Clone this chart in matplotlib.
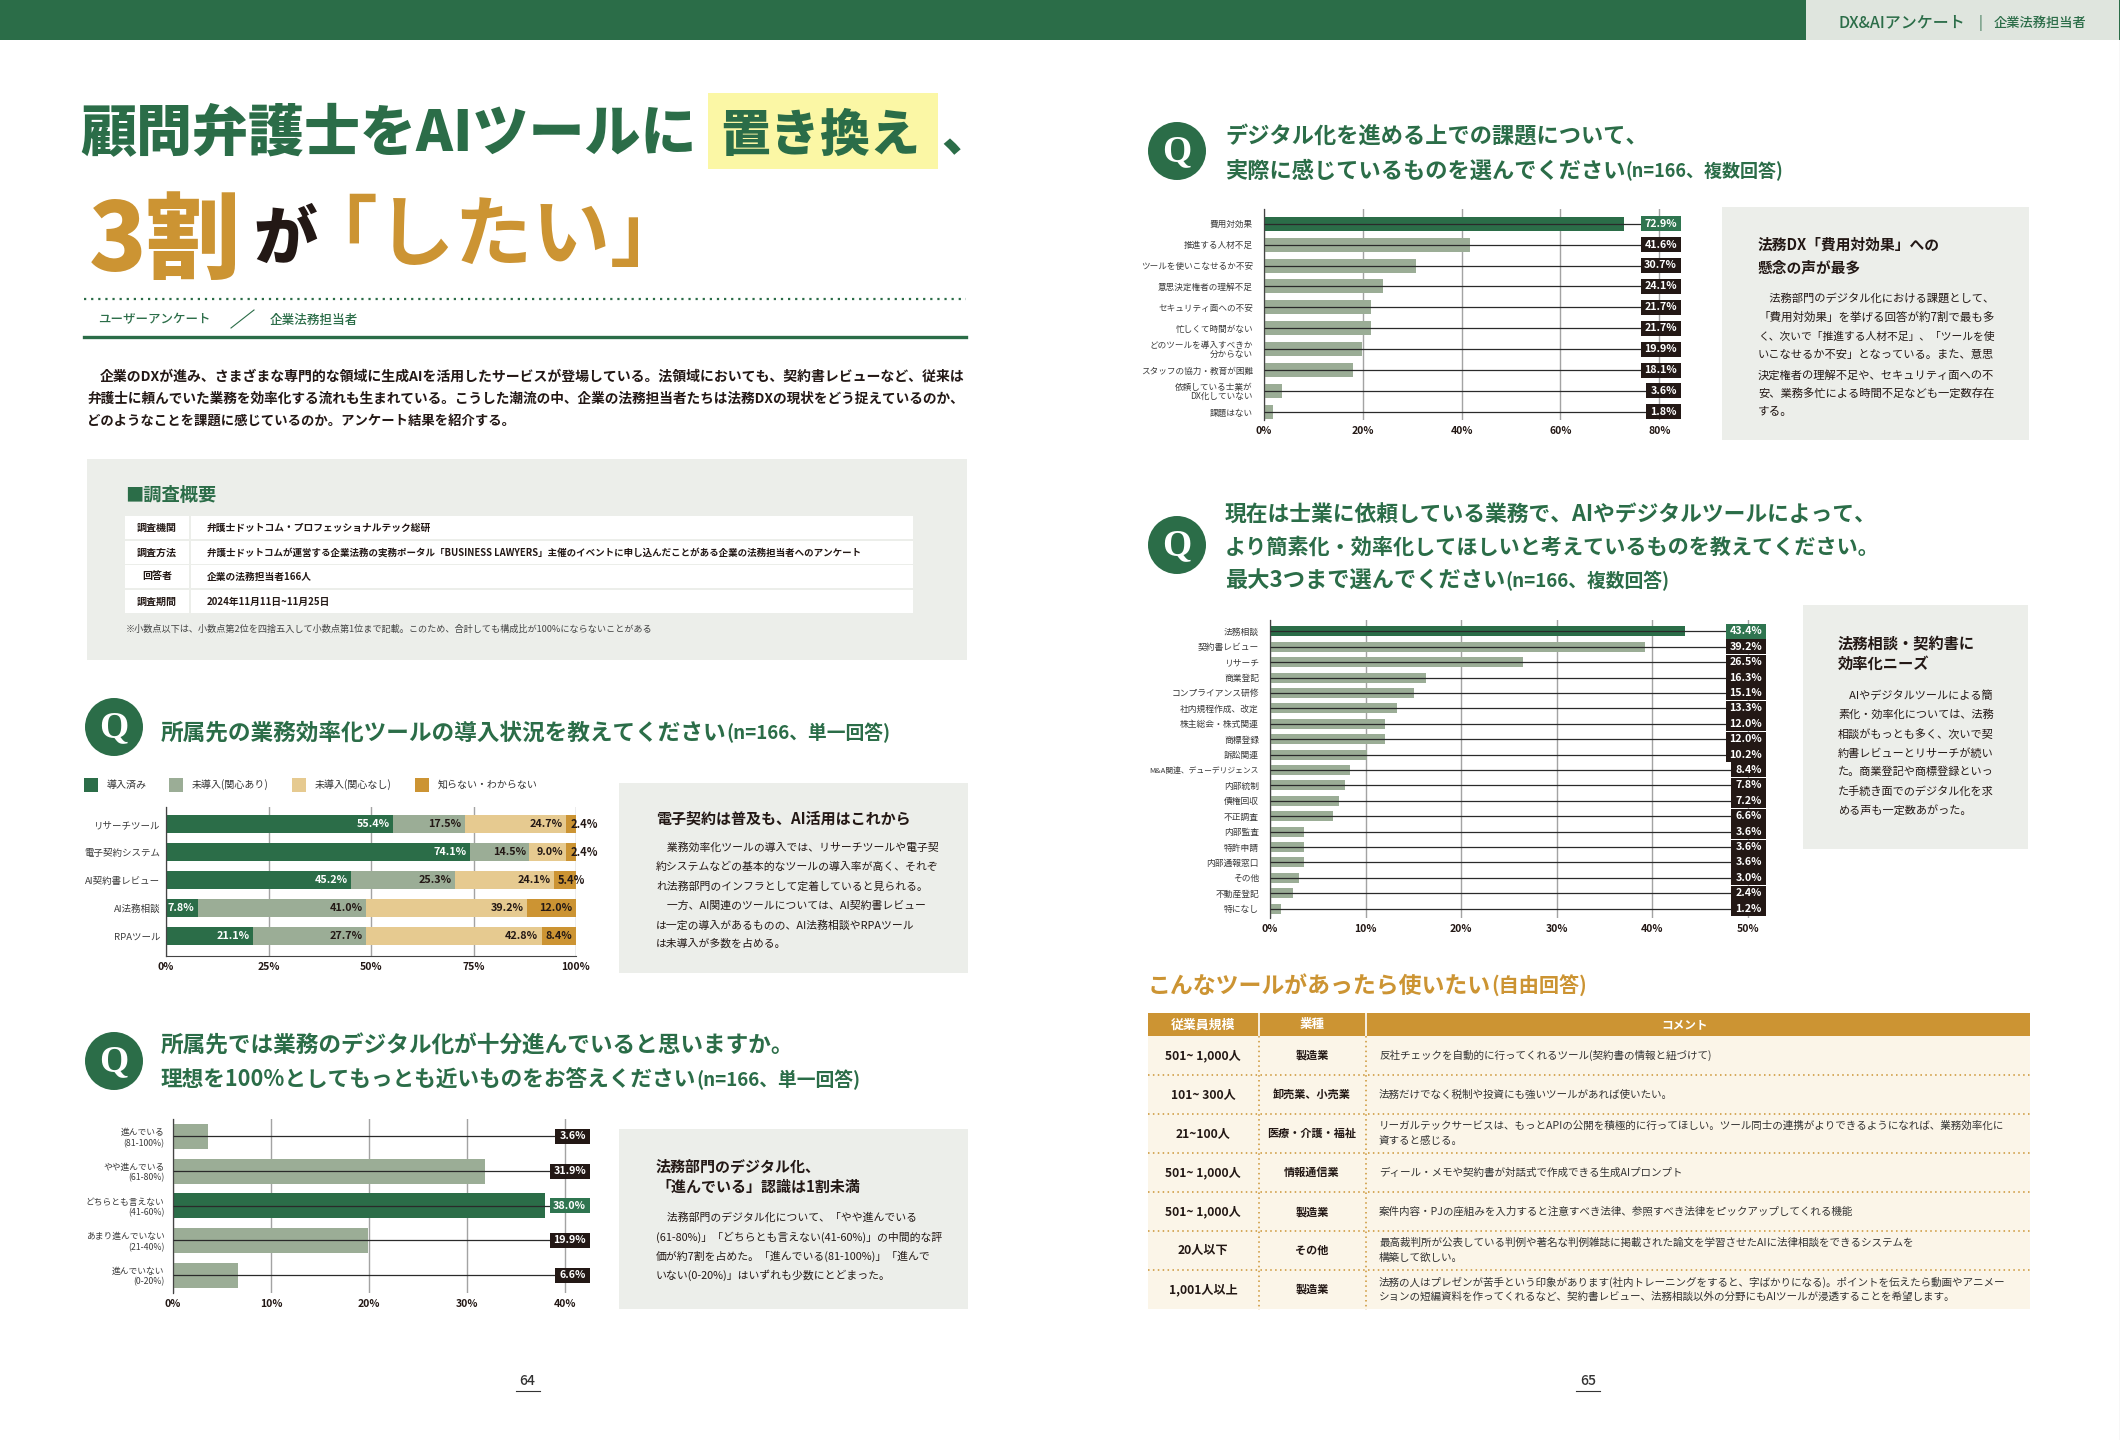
import matplotlib
matplotlib.use('Agg')
import matplotlib.pyplot as plt
from matplotlib.patches import Rectangle, Ellipse

plt.rcParams['font.family'] = ['Noto Sans CJK JP', 'DejaVu Sans']

GREEN = '#2B6D48'
SAGE = '#9BAD96'
TAN = '#E6CA90'
ORANGE = '#CC9433'
GREY = '#ECEEEA'
INK = '#231815'
GRID = '#A3A3A3'

# stacked chart
tool_names = ['リサーチツール', '電子契約システム', 'AI契約書レビュー', 'AI法務相談', 'RPAツール']
adopted = [55.4, 74.1, 45.2, 7.8, 21.1]
interested = [17.5, 14.5, 25.3, 41.0, 27.7]
not_interested = [24.7, 9.0, 24.1, 39.2, 42.8]
unknown = [2.4, 2.4, 5.4, 12.0, 8.4]
legend_names = ['導入済み', '未導入(関心あり)', '未導入(関心なし)', '知らない・わからない']

# digitalisation level
level_names = ['進んでいる\n(81-100%)', 'やや進んでいる\n(61-80%)', 'どちらとも言えない\n(41-60%)',
               'あまり進んでいない\n(21-40%)', '進んでいない\n(0-20%)']
level_values = [3.6, 31.9, 38.0, 19.9, 6.6]

# issues
issue_names = ['費用対効果', '推進する人材不足', 'ツールを使いこなせるか不安', '意思決定権者の理解不足',
               'セキュリティ面への不安', '忙しくて時間がない', 'どのツールを導入すべきか\n分からない',
               'スタッフの協力・教育が困難', '依頼している士業が\nDX化していない', '課題はない']
issue_values = [72.9, 41.6, 30.7, 24.1, 21.7, 21.7, 19.9, 18.1, 3.6, 1.8]

# tasks
task_names = ['法務相談', '契約書レビュー', 'リサーチ', '商業登記', 'コンプライアンス研修', '社内規程作成、改定',
              '株主総会・株式関連', '商標登録', '訴訟関連', 'M&A関連、デューデリジェンス', '内部統制', '債権回収',
              '不正調査', '内部監査', '特許申請', '内部通報窓口', 'その他', '不動産登記', '特になし']
task_values = [43.4, 39.2, 26.5, 16.3, 15.1, 13.3, 12.0, 12.0, 10.2, 8.4, 7.8, 7.2, 6.6, 3.6, 3.6, 3.6, 3.0, 2.4, 1.2]

# tool comments
table_head = ['従業員規模', '業種', 'コメント']
table_size = ['501~ 1,000人', '101~ 300人', '21~100人', '501~ 1,000人', '501~ 1,000人', '20人以下', '1,001人以上']
table_kind = ['製造業', '卸売業、小売業', '医療・介護・福祉', '情報通信業', '製造業', 'その他', '製造業']
table_comment = [
    ['反社チェックを自動的に行ってくれるツール(契約書の情報と紐づけて)'],
    ['法務だけでなく税制や投資にも強いツールがあれば使いたい。'],
    ['リーガルテックサービスは、もっとAPIの公開を積極的に行ってほしい。ツール同士の連携がよりできるようになれば、業務効率化に', '資すると感じる。'],
    ['ディール・メモや契約書が対話式で作成できる生成AIプロンプト'],
    ['案件内容・PJの座組みを入力すると注意すべき法律、参照すべき法律をピックアップしてくれる機能'],
    ['最高裁判所が公表している判例や著名な判例雑誌に掲載された論文を学習させたAIに法律相談をできるシステムを', '構築して欲しい。'],
    ['法務の人はプレゼンが苦手という印象があります(社内トレーニングをすると、字ばかりになる)。ポイントを伝えたら動画やアニメー',
     'ションの短編資料を作ってくれるなど、契約書レビュー、法務相談以外の分野にもAIツールが浸透することを希望します。'],
]

survey_keys = ['調査機関', '調査方法', '回答者', '調査期間']
survey_vals = ['弁護士ドットコム・プロフェッショナルテック総研',
               '弁護士ドットコムが運営する企業法務の実務ポータル「BUSINESS LAWYERS」主催のイベントに申し込んだことがある企業の法務担当者へのアンケート',
               '企業の法務担当者166人',
               '2024年11月11日~11月25日']

fig = plt.figure(figsize=(21.2, 14.4), dpi=100)
page = fig.add_axes([0, 0, 1, 1])
page.set_xlim(0, 2120)
page.set_ylim(1440, 0)
page.axis('off')
rend = fig.canvas.get_renderer()


def box(x0, y0, x1, y1, color):
    page.add_patch(Rectangle((x0, y0), x1 - x0, y1 - y0, fc=color, ec='none'))


def txt(x, y, s, size=8, color=INK, weight='normal', ha='left', width=None):
    t = page.text(x, y, s, fontsize=size, color=color, fontweight=weight, ha=ha, va='center')
    if width:
        t.set_fontsize(size * width / t.get_window_extent(rend).width)
    return t


def inline(x, y, parts, color=GREEN, weight='bold'):
    # several sizes on one row
    for s, size in parts:
        t = txt(x, y, s, size, color, weight)
        x += t.get_window_extent(rend).width


def lines(x, ys, rows, size=7.7, color=INK, weight='normal', width=None):
    # width justifies every row but the last one
    for i, (y, s) in enumerate(zip(ys, rows)):
        txt(x, y, s, size, color, weight, width=width if i < len(rows) - 1 else None)


def q_mark(x, y):
    page.add_patch(Ellipse((x, y), 58, 58, fc=GREEN, ec='none'))
    page.text(x, y + 1, 'Q', fontsize=27, color='white', ha='center', va='center',
              family='Liberation Serif', fontweight='bold')


def chart_axes(left, top, right, bottom, xmax):
    ax = fig.add_axes([left / 2120, 1 - bottom / 1440, (right - left) / 2120, (bottom - top) / 1440])
    ax.patch.set_alpha(0)
    ax.set_xlim(0, xmax)
    for side in ['top', 'right', 'bottom']:
        ax.spines[side].set_visible(False)
    ax.spines['left'].set_color('#444444')
    ax.spines['left'].set_linewidth(0.9)
    ax.set_axisbelow(True)
    ax.grid(axis='x', color=GRID, lw=1.0)
    ax.tick_params(length=0)
    return ax


def bar_chart(rect, xmax, ticks, names, values, first_y, step, bar_h, name_size, val_pad, line_sp=1.0):
    left, top, right, bottom = rect
    ax = chart_axes(left, top, right, bottom, xmax)
    ax.set_ylim((bottom - first_y) / step, (top - first_y) / step)
    pos = list(range(len(values)))
    best = max(values)
    colors = [GREEN if v == best else SAGE for v in values]
    ax.barh(pos, values, height=bar_h / step, color=colors)
    ax.hlines(pos, 0, xmax * 0.98, color='#2a2a2a', lw=0.9, zorder=3)
    ax.set_yticks(pos, names, fontsize=name_size, color='#3a3a3a', linespacing=line_sp)
    ax.set_xticks(ticks, [f'{k}%' for k in ticks], fontsize=7.5, fontweight='bold', color=INK)
    ax.tick_params(axis='y', pad=val_pad)
    ax.tick_params(axis='x', pad=4)
    # value chips at the right edge of the plot
    unit = (right - left) / xmax
    for i, v in enumerate(values):
        fc = '#2F7550' if v == best else INK
        label = f'{v:.1f}%'
        chip = (40 if len(label) > 4 else 35) / unit
        ax.barh(i, chip, left=xmax - chip, height=15 / step, color=fc, zorder=4)
        ax.text(xmax - 4 / unit, i, label, ha='right', va='center', fontsize=7.7, fontweight='bold',
                color='white', zorder=5)
    return ax


# header band
box(0, 0, 2120, 40, GREEN)
box(1806, 0, 2119, 40, '#DFE5DE')
txt(1838, 23, 'DX&AIアンケート', 9.7, GREEN, 'medium', width=127)
txt(1978, 23, '|', 10.5, GREEN)
txt(1994, 23, '企業法務担当者', 9.6, GREEN, 'medium', width=93)
page.plot([2119.5, 2119.5], [40, 1440], color='#D8D8D8', lw=1)

# main title
box(708, 93, 938, 169, '#FBF7A5')
txt(80, 135, '顧問弁護士をAIツールに', 39, GREEN, 'black', width=616)
txt(720, 136, '置き換え', 36, GREEN, 'black', width=200)
txt(941, 136, '、', 36, GREEN, 'black')
txt(89, 243, '3割', 66, ORANGE, 'black', width=152)
txt(253, 240, 'が', 43, INK, 'black', width=64)
txt(299, 237, '「したい」', 56, ORANGE, 'bold')

page.plot([84, 966], [299, 299], color=GREEN, lw=1.6, ls=(0, (1, 2.2)))
txt(98, 320, 'ユーザーアンケート', 8.2, GREEN, 'medium', width=112)
page.plot([231, 254], [328, 310], color=GREEN, lw=0.8)
txt(270, 320, '企業法務担当者', 8.2, GREEN, 'medium', width=88)
page.plot([84, 966], [337, 337], color=GREEN, lw=2.4)

txt(100, 376, '企業のDXが進み、さまざまな専門的な領域に生成AIを活用したサービスが登場している。法領域においても、契約書レビューなど、従来は',
    9.6, INK, 'bold', width=870)
txt(87, 399, '弁護士に頼んでいた業務を効率化する流れも生まれている。こうした潮流の中、企業の法務担当者たちは法務DXの現状をどう捉えているのか、',
    9.6, INK, 'bold', width=883)
txt(87, 421, 'どのようなことを課題に感じているのか。アンケート結果を紹介する。', 9.6, INK, 'bold')

# survey overview
box(87, 459, 967, 660, GREY)
txt(125, 495, '■調査概要', 13, GREEN, 'bold', width=91)
survey_y = [(516, 539), (541, 564), (565, 588), (590, 613)]
for (y0, y1), key, val in zip(survey_y, survey_keys, survey_vals):
    box(125, y0, 189, y1, 'white')
    box(191, y0, 913, y1, 'white')
    txt(157, (y0 + y1) / 2, key, 7.2, INK, 'bold', ha='center')
    txt(207, (y0 + y1) / 2, val, 7.0, INK, 'bold', width=656 if len(val) > 50 else None)
txt(126, 629, '※小数点以下は、小数点第2位を四捨五入して小数点第1位まで記載。このため、合計しても構成比が100%にならないことがある',
    6.5, '#444444', width=527)

# Q1
q_mark(114, 727)
inline(161, 733, [('所属先の業務効率化ツールの導入状況を教えてください', 16.3), ('(n=166、単一回答)', 13.5)])
leg_x = [84, 169, 292, 415]
leg_colors = [GREEN, SAGE, TAN, ORANGE]
for x, c, name in zip(leg_x, leg_colors, legend_names):
    box(x, 778, x + 14, 792, c)
    txt(x + 23, 785, name, 7.2, '#333333')

ax = chart_axes(166, 807, 576, 956, 100)
ax.set_ylim((956 - 824.3) / 28, (807 - 824.3) / 28)
ax.spines['bottom'].set_visible(True)
ax.spines['bottom'].set_color('#444444')
pos = list(range(len(tool_names)))
starts = [0] * len(pos)
for vals, c in zip([adopted, interested, not_interested, unknown], leg_colors):
    ax.barh(pos, vals, left=starts, height=17.7 / 28, color=c)
    for i, v in enumerate(vals):
        tc = 'white' if c == GREEN else INK
        if v < 6:
            ax.text(starts[i] + 1.0, i, f'{v}%', ha='left', va='center', fontsize=8, fontweight='bold',
                    color=tc, clip_on=False, zorder=4)
        else:
            ax.text(starts[i] + v - 0.8, i, f'{v:.1f}%', ha='right', va='center', fontsize=7.8, fontweight='bold',
                    color=tc, zorder=4)
    starts = [s + v for s, v in zip(starts, vals)]
ax.set_yticks(pos, tool_names, fontsize=6.8, color='#3a3a3a')
ax.tick_params(axis='y', pad=4)
ax.set_xticks([0, 25, 50, 75, 100], ['0%', '25%', '50%', '75%', '100%'], fontsize=7.5, fontweight='bold', color=INK)
ax.tick_params(axis='x', pad=4)

box(619, 783, 968, 973, GREY)
txt(656, 819, '電子契約は普及も、AI活用はこれから', 10.8, INK, 'bold', width=255)
lines(656, [848, 867, 886, 906, 925, 944],
      ['　業務効率化ツールの導入では、リサーチツールや電子契',
       '約システムなどの基本的なツールの導入率が高く、それぞ',
       'れ法務部門のインフラとして定着していると見られる。',
       '　一方、AI関連のツールについては、AI契約書レビュー',
       'は一定の導入があるものの、AI法務相談やRPAツール',
       'は未導入が多数を占める。'], 7.8)

# Q2
q_mark(114, 1061)
txt(161, 1046, '所属先では業務のデジタル化が十分進んでいると思いますか。', 16.3, GREEN, 'bold')
inline(161, 1080, [('理想を100%としてもっとも近いものをお答えください', 15.6), ('(n=166、単一回答)', 13.5)])
bar_chart((173, 1119, 590, 1293), 42.6, [0, 10, 20, 30, 40], level_names, level_values,
          1136.3, 34.7, 25, 6.3, 6, 1.2)
box(619, 1129, 968, 1309, GREY)
lines(656, [1166, 1187], ['法務部門のデジタル化、', '「進んでいる」認識は1割未満'], 10.8, INK, 'bold')
lines(656, [1218, 1237, 1256, 1275],
      ['　法務部門のデジタル化について、「やや進んでいる',
       '(61-80%)」「どちらとも言えない(41-60%)」の中間的な評',
       '価が約7割を占めた。「進んでいる(81-100%)」「進んで',
       'いない(0-20%)」はいずれも少数にとどまった。'], 7.8)

txt(527, 1381, '64', 10, '#333333', 'medium', ha='center')
page.plot([516, 540], [1391, 1391], color='#333333', lw=0.8)
txt(1588, 1381, '65', 10, '#333333', 'medium', ha='center')
page.plot([1576, 1600], [1391, 1391], color='#333333', lw=0.8)

# Q3
q_mark(1177, 151)
txt(1225, 137, 'デジタル化を進める上での課題について、', 16, GREEN, 'bold')
inline(1225, 171, [('実際に感じているものを選んでください', 16), ('(n=166、複数回答)', 13)])
ax3 = bar_chart((1264, 209, 1681, 420), 84.4, [0, 20, 40, 60, 80], issue_names, issue_values,
                223.7, 20.9, 14, 6.2, 8)
box(1722, 207, 2029, 440, GREY)
lines(1758, [245, 267], ['法務DX「費用対効果」への', '懸念の声が最多'], 10.6, INK, 'bold')
lines(1758, [298, 317, 337, 355, 375, 393, 412],
      ['　法務部門のデジタル化における課題として、',
       '「費用対効果」を挙げる回答が約7割で最も多',
       'く、次いで「推進する人材不足」、「ツールを使',
       'いこなせるか不安」となっている。また、意思',
       '決定権者の理解不足や、セキュリティ面への不',
       '安、業務多忙による時間不足なども一定数存在',
       'する。'], 8.4, width=236)

# Q4
q_mark(1177, 545)
txt(1225, 515, '現在は士業に依頼している業務で、AIやデジタルツールによって、', 16, GREEN, 'bold', width=652)
txt(1225, 547, 'より簡素化・効率化してほしいと考えているものを教えてください。', 16, GREEN, 'bold', width=655)
inline(1225, 581, [('最大3つまで選んでください', 16), ('(n=166、複数回答)', 13.5)])
ax4 = bar_chart((1270, 620, 1766, 918), 51.9, [0, 10, 20, 30, 40, 50], task_names, task_values,
                631.3, 15.41, 10, 6.3, 8)
ax4.get_yticklabels()[9].set_fontsize(5.6)
box(1803, 605, 2028, 849, GREY)
lines(1838, [643, 664], ['法務相談・契約書に', '効率化ニーズ'], 11, INK, 'bold')
lines(1838, [696, 715, 734, 753, 772, 791, 810],
      ['　AIやデジタルツールによる簡',
       '素化・効率化については、法務',
       '相談がもっとも多く、次いで契',
       '約書レビューとリサーチが続い',
       'た。商業登記や商標登録といっ',
       'た手続き面でのデジタル化を求',
       'める声も一定数あがった。'], 8)

# free answer table
inline(1148, 986, [('こんなツールがあったら使いたい', 16.5), ('(自由回答)', 14.5)], ORANGE)
col_x = [1147.5, 1259, 1365.6, 2030]
row_y = [1036, 1075, 1114, 1153.3, 1192.3, 1231, 1270, 1308.7]
box(col_x[0], row_y[0], col_x[3], row_y[-1], '#FBF5E8')
box(col_x[0], 1013, col_x[3], 1036, ORANGE)
for x in col_x[1:3]:
    page.plot([x, x], [1013, 1036], color='white', lw=1.2)
    page.plot([x, x], [1036, 1310], color=ORANGE, lw=1.1, ls=(0, (1, 2.2)))
for y in row_y[1:-1]:
    page.plot([col_x[0], col_x[3]], [y, y], color=ORANGE, lw=1.1, ls=(0, (1, 2.2)))
for x, s, size in zip([1203, 1312, 1685], table_head, [9.3, 9, 8.4]):
    txt(x, 1024.5, s, size, 'white', 'bold', ha='center')
for i in range(len(table_size)):
    mid = (row_y[i] + row_y[i + 1]) / 2
    txt(1203, mid, table_size[i], 8.7, INK, 'bold', ha='center')
    txt(1312, mid, table_kind[i], 8, INK, 'bold', ha='center')
    rows = table_comment[i]
    ys = [mid] if len(rows) == 1 else [mid - 7.5, mid + 7.5]
    lines(1379, ys, rows, 7.6, '#333333')

fig.savefig('out.png', dpi=100)
